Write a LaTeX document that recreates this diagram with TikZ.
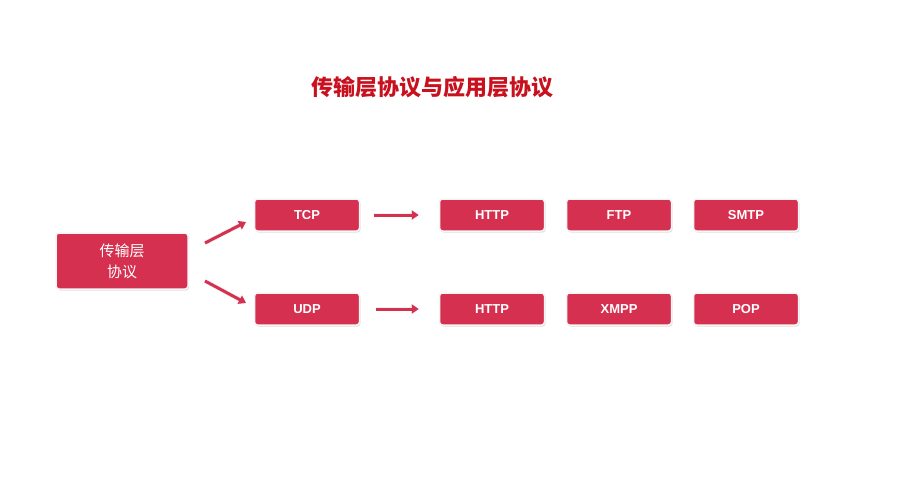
\documentclass[tikz,border=0pt]{standalone}
\usepackage{fontspec}
\setmainfont{Liberation Sans}
\newfontfamily\cjk{Noto Sans CJK SC}
\usetikzlibrary{arrows.meta,shadows}
\definecolor{boxred}{HTML}{D5304F}
\definecolor{titlered}{HTML}{C8101E}
\tikzset{
 pbox/.style={fill=boxred,draw=white!92!gray,line width=1.5pt,rounded corners=3pt,
   minimum width=105pt,minimum height=32pt,text=white,font=\bfseries\fontsize{13}{15}\selectfont,
   drop shadow={shadow xshift=1pt,shadow yshift=-1.5pt,opacity=0.25}},
 parr/.style={draw=boxred,line width=3pt,-{Triangle[length=7pt,width=9pt]},preaction={draw=white!90!gray,line width=4.5pt,-{Triangle[length=8pt,width=11pt]}}}
}
\begin{document}
\begin{tikzpicture}[x=1pt,y=-1pt]
\useasboundingbox (0,0) rectangle (905,479);
\node[font=\cjk\bfseries\fontsize{22}{26}\selectfont,text=titlered] (title) at (432,87) {传输层协议与应用层协议};
\node[pbox,minimum width=132pt,minimum height=56pt,align=center,font=\cjk\fontsize{15}{21}\selectfont] (tl) at (122,261) {传输层\\协议};
\node[pbox] (tcp) at (307,215) {TCP};
\node[pbox] (h1) at (492,215) {HTTP};
\node[pbox] (ftp) at (619,215) {FTP};
\node[pbox] (smtp) at (746,215) {SMTP};
\node[pbox] (udp) at (307,309) {UDP};
\node[pbox] (h2) at (492,309) {HTTP};
\node[pbox] (xmpp) at (619,309) {XMPP};
\node[pbox] (pop) at (746,309) {POP};
\coordinate (a1) at (205,243); \coordinate (a2) at (246,222);
\coordinate (b1) at (205,281); \coordinate (b2) at (246,303);
\draw[parr] (a1) -- (a2);
\draw[parr] (b1) -- (b2);
\draw[parr] ([xshift=14pt]tcp.east) -- ([xshift=-20pt]h1.west);
\draw[parr] ([xshift=16pt]udp.east) -- ([xshift=-20pt]h2.west);
\end{tikzpicture}
\end{document}
